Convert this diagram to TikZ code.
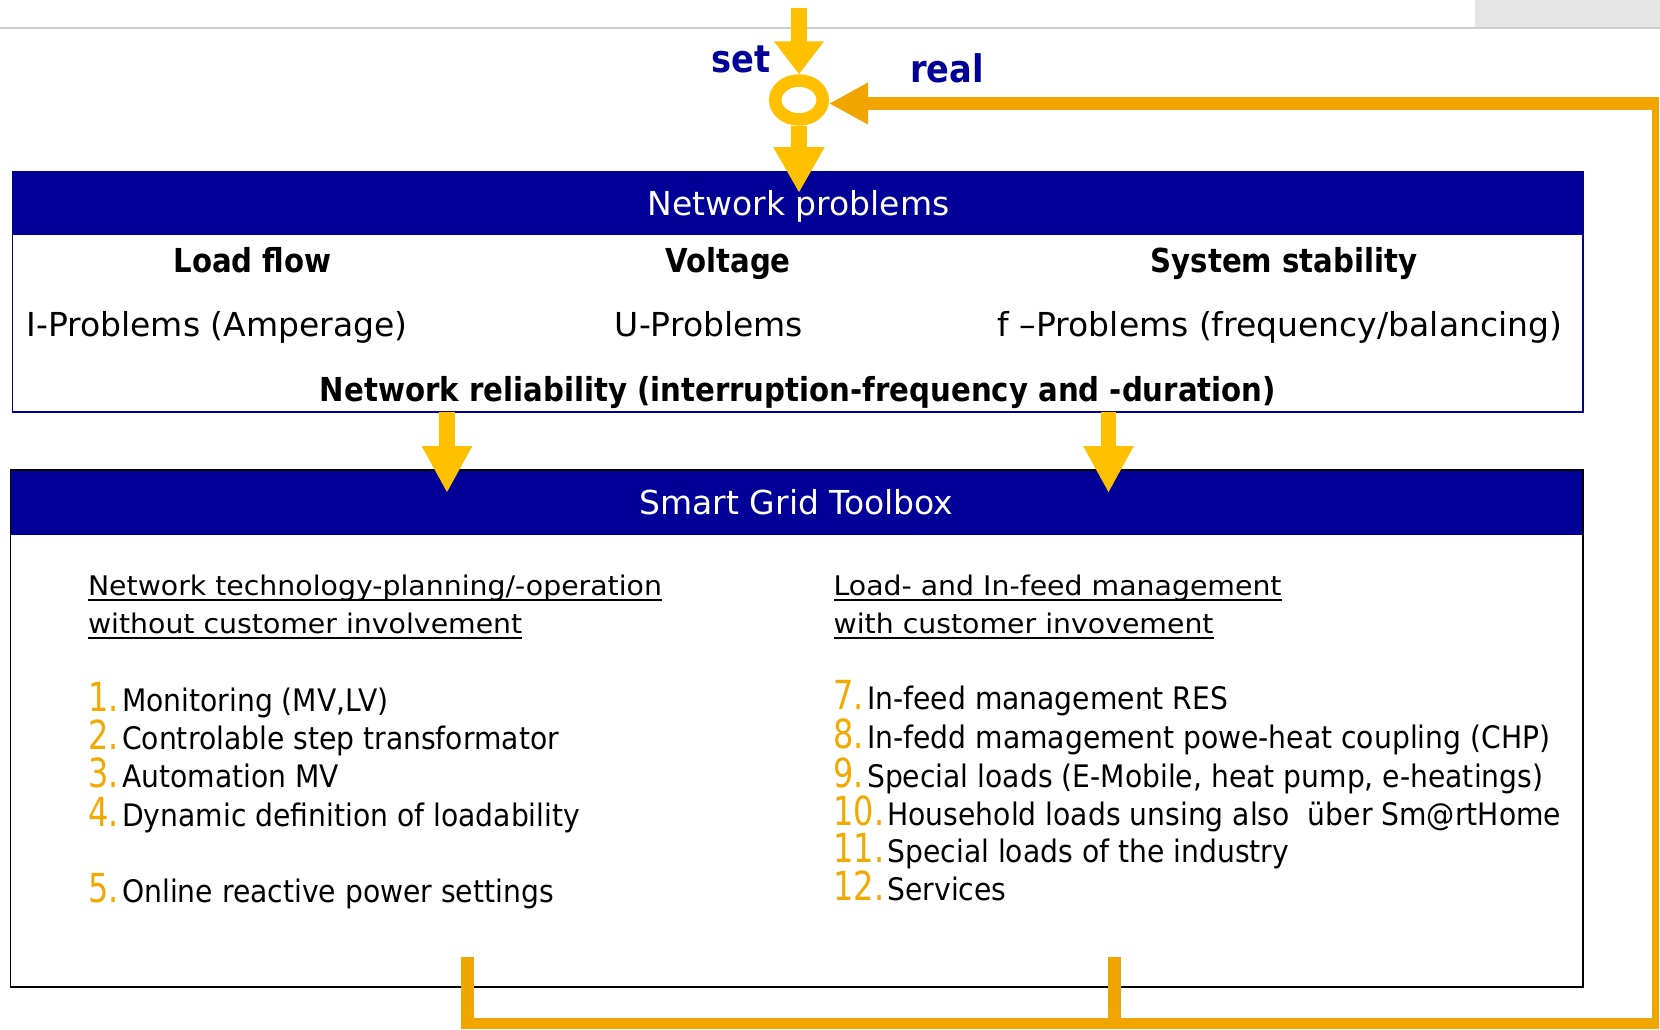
\documentclass[tikz,border=0pt]{standalone}
\usepackage{fontspec}
\setmainfont{DejaVu Sans}
\newfontfamily\condfont[FakeStretch=0.91]{DejaVu Sans}
\newfontfamily\boldcond[FakeStretch=0.885]{DejaVu Sans}
\newfontfamily\numfont[FakeStretch=0.8]{DejaVu Sans}
\newfontfamily\headfont[FakeStretch=1.05]{DejaVu Sans}
\usetikzlibrary{arrows.meta,shapes.geometric}
\definecolor{nblue}{HTML}{000099}
\definecolor{gold}{HTML}{FFC000}
\definecolor{fborange}{HTML}{F0A500}
\definecolor{numorange}{HTML}{F2A900}
\newcommand{\numit}[2]{{\color{numorange}\numfont\fontsize{40}{40}\selectfont #1.}\kern3pt#2}
\begin{document}
\begin{tikzpicture}[x=1pt,y=-1pt,
  txt/.style={inner sep=0pt, outer sep=0pt, anchor=base},
  hdr/.style={txt, text=white, font=\fontsize{33}{33}\selectfont},
  boldrow/.style={txt, font=\boldcond\bfseries\fontsize{33}{33}\selectfont},
  plainrow/.style={txt, font=\fontsize{33}{33}\selectfont},
  colhead/.style={txt, anchor=base west, font=\headfont\fontsize{27}{27}\selectfont},
  itemtxt/.style={txt, anchor=base west, font=\condfont\fontsize{31}{31}\selectfont},
  sr/.style={txt, text=nblue, font=\boldcond\bfseries\fontsize{38}{38}\selectfont},
  goldarrow/.style={gold, line width=16pt},
  fb/.style={fborange, line join=miter}
]
\useasboundingbox (0,0) rectangle (1660,1029);
\fill[white] (0,0) rectangle (1660,1029);
% top grey strip
\fill[black!10] (1475,0) rectangle (1660,27);
\draw[black!20, line width=2.5pt] (0,28) -- (1660,28);

% ----- Network problems box
\node[fill=nblue, anchor=north west, minimum width=1570.5pt, minimum height=63.5pt, inner sep=0pt, outer sep=0pt] (nph) at (12.5,171.5) {};
\node[draw=nblue, line width=1.5pt, anchor=north west, minimum width=1570.5pt, minimum height=240.5pt, inner sep=0pt, outer sep=0pt] (np) at (12.5,171.5) {};
\node[hdr] (nptitle) at (798.5,215) {Network problems};
\node[boldrow] (lf) at (252.5,272) {Load flow};
\node[boldrow] (vo) at (728,272) {Voltage};
\node[boldrow] (ss) at (1284,272) {System stability};
\node[plainrow] (ip) at (217,336) {I-Problems (Amperage)};
\node[plainrow] (up) at (709,336) {U-Problems};
\node[plainrow] (fp) at (1280,336) {f –Problems (frequency/balancing)};
\node[boldrow] (nr) at (798,401) {Network reliability (interruption-frequency and -duration)};

% ----- Smart Grid Toolbox box
\node[fill=nblue, anchor=north west, minimum width=1572.4pt, minimum height=65pt, inner sep=0pt, outer sep=0pt] (tbh) at (10.6,470) {};
\node[draw=black, line width=1.5pt, anchor=north west, minimum width=1572.4pt, minimum height=517pt, inner sep=0pt, outer sep=0pt] (tb) at (10.6,470) {};
\node[hdr] (tbtitle) at (796.5,514) {Smart Grid Toolbox};

\node[colhead] (lh1) at (88,595) {Network technology-planning/-operation};
\node[colhead] (lh2) at (88,633) {without customer involvement};
\node[colhead] (rh1) at (833.6,595) {Load- and In-feed management};
\node[colhead] (rh2) at (833.6,633) {with customer invovement};
\foreach \n in {lh1,lh2,rh1,rh2}
  \draw[line width=1.8pt] ([yshift=-5pt]\n.base west) -- ([yshift=-5pt]\n.base east);

\node[itemtxt] (i1) at (88.6,711) {\numit{1}{Monitoring (MV,LV)}};
\node[itemtxt] (i2) at (88.6,749) {\numit{2}{Controlable step transformator}};
\node[itemtxt] (i3) at (88.6,787) {\numit{3}{Automation MV}};
\node[itemtxt] (i4) at (88.6,826) {\numit{4}{Dynamic definition of loadability}};
\node[itemtxt] (i5) at (88.6,902) {\numit{5}{Online reactive power settings}};

\node[itemtxt] (i7) at (833.6,709) {\numit{7}{In-feed management RES}};
\node[itemtxt] (i8) at (833.6,748) {\numit{8}{In-fedd mamagement powe-heat coupling (CHP)}};
\node[itemtxt] (i9) at (833.6,787) {\numit{9}{Special loads (E-Mobile, heat pump, e-heatings)}};
\node[itemtxt] (i10) at (833.6,825) {\numit{10}{Household loads unsing also\ \ über Sm@rtHome}};
\node[itemtxt] (i11) at (833.6,862) {\numit{11}{Special loads of the industry}};
\node[itemtxt] (i12) at (833.6,900) {\numit{12}{Services}};

% ----- comparator ring and set/real
\node[draw=gold, line width=12.5pt, ellipse, minimum width=47.5pt, minimum height=39pt, inner sep=0pt] (ring) at (799,100) {};
\coordinate (settop) at (799,8);
\coordinate (npin) at (799,193);
\draw[goldarrow, -{Triangle[length=33pt,width=48pt]}] (settop) -- (ring.north);
\draw[goldarrow, -{Triangle[length=46pt,width=48pt]}] (ring.south) -- (npin);
\node[sr] (setlbl) at (741,72) {set};
\node[sr] (reallbl) at (947,82) {real};

% ----- arrows between the boxes
\coordinate (a1) at (447,493);
\coordinate (a2) at (1108.5,493);
\draw[gold, line width=15.5pt, -{Triangle[length=47pt,width=47pt]}] (np.south -| a1) -- (a1);
\draw[gold, line width=15.5pt, -{Triangle[length=47pt,width=47pt]}] (np.south -| a2) -- (a2);

% ----- feedback loop
\coordinate (fbL) at (467,957);
\coordinate (fbM) at (1114,957);
\coordinate (fbBL) at (467,1023);
\coordinate (fbBR) at (1658,1023);
\coordinate (fbTR) at (1655,103.5);
\draw[fb, line width=13pt] (fbL) -- (fbBL);
\draw[fb, line width=13pt] (fbM) -- (fbM |- fbBL);
\draw[fb, line width=11pt] (460.5,1023) -- (fbBR);
\draw[fb, line width=7pt] (1655,1028.5) -- (1655,97);
\draw[fb, line width=13pt, -{Triangle[length=39pt,width=39pt]}] (1658.5,103.5) -- (ring.east |- fbTR);
\end{tikzpicture}
\end{document}
